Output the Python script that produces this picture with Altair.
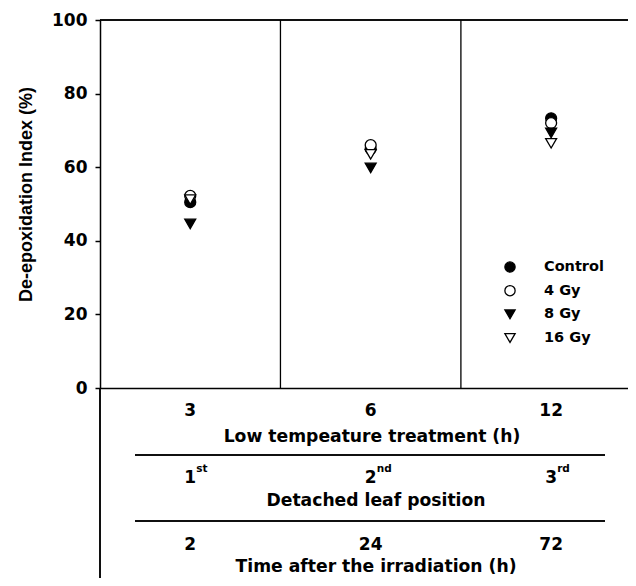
import altair as alt
import pandas as pd

# ---- data ----
series = ["Control", "4 Gy", "8 Gy", "16 Gy"]
low_temp_h = ["3", "6", "12"]
leaf_ordinals = ["1", "2", "3"]
leaf_suffixes = ["st", "nd", "rd"]
time_after_h = ["2", "24", "72"]
control = [50.5, 65.0, 73.3]
gy4 = [52.2, 66.0, 72.0]
gy8 = [44.6, 59.8, 69.3]
gy16 = [51.2, 63.5, 66.5]
y_ticks = [0, 20, 40, 60, 80, 100]
group_bounds = [1, 2]
y_title = "De-epoxidation Index (%)"
row_titles = ["Low tempeature treatment (h)", "Detached leaf position", "Time after the irradiation (h)"]

W, H = 528, 368
values = {"Control": control, "4 Gy": gy4, "8 Gy": gy8, "16 Gy": gy16}
rows = []
for s in series:
    for i, v in enumerate(values[s]):
        rows.append({"series": s, "g": i + 0.5, "v": v})
pts = pd.DataFrame(rows)
groups = pd.DataFrame({"g": [i + 0.5 for i in range(3)], "t1": low_temp_h,
                       "o": leaf_ordinals, "suf": leaf_suffixes, "t3": time_after_h})
bounds = pd.DataFrame({"b": group_bounds})
leg = pd.DataFrame({"series": series, "i": list(range(len(series)))})

xscale = alt.Scale(domain=[0, 2.926], nice=False, zero=False)
yscale = alt.Scale(domain=[0, 100], nice=False)
legscale = alt.Scale(domain=[0, 3], range=[247, 318])
shape_scale = alt.Scale(domain=series, range=["circle", "circle", "triangle-down", "triangle-down"])
fill_scale = alt.Scale(domain=series, range=["black", "white", "black", "white"])
xaxis = alt.Axis(labels=False, ticks=False, title=None, grid=False,
                 domainColor="black", domainWidth=1.5)
yaxis = alt.Axis(values=y_ticks, tickSize=5, tickWidth=1.5, tickColor="black",
                 labelPadding=8, labelFont="DejaVu Sans", labelFontWeight="bold",
                 labelFontSize=17, labelColor="black", grid=False,
                 domainColor="black", domainWidth=1.5,
                 title=y_title, titleFont="Liberation Sans", titleFontSize=18,
                 titleFontWeight="bold", titleColor="black", titleAngle=270,
                 titleX=-69, titleY=174, titleAlign="center", titleBaseline="alphabetic")

points = alt.Chart(pts).mark_point(filled=True, size=120, stroke="black",
                                   strokeWidth=1.3, opacity=1).encode(
    x=alt.X("g:Q", scale=xscale, axis=xaxis),
    y=alt.Y("v:Q", scale=yscale, axis=yaxis),
    shape=alt.Shape("series:N", scale=shape_scale, legend=None),
    fill=alt.Fill("series:N", scale=fill_scale, legend=None),
)

leg_pts = alt.Chart(leg).mark_point(filled=True, size=105, stroke="black",
                                    strokeWidth=1.3, opacity=1).encode(
    x=alt.value(410),
    y=alt.Y("i:Q", scale=legscale, axis=None),
    shape=alt.Shape("series:N", scale=shape_scale, legend=None),
    fill=alt.Fill("series:N", scale=fill_scale, legend=None),
)
leg_txt = alt.Chart(leg).mark_text(font="DejaVu Sans", fontWeight="bold", fontSize=14.5,
                                   color="black", align="left", baseline="middle").encode(
    x=alt.value(444),
    y=alt.Y("i:Q", scale=legscale, axis=None),
    text="series:N",
)

top_line = alt.Chart(bounds).mark_rule(color="black", strokeWidth=1.5).encode(
    x=alt.value(0), x2=alt.value(W), y=alt.value(0))
seps = alt.Chart(bounds).mark_rule(color="black", strokeWidth=1.3).encode(
    x=alt.X("b:Q", scale=xscale, axis=xaxis), y=alt.value(0), y2=alt.value(H))
ext_axis = alt.Chart(bounds).mark_rule(color="black", strokeWidth=1.5).encode(
    x=alt.value(0), y=alt.value(H), y2=alt.value(558))
line1 = alt.Chart(bounds).mark_rule(color="black", strokeWidth=1.3).encode(
    x=alt.value(35), x2=alt.value(505), y=alt.value(435))
line2 = alt.Chart(bounds).mark_rule(color="black", strokeWidth=1.3).encode(
    x=alt.value(35), x2=alt.value(505), y=alt.value(501))

num_style = dict(font="DejaVu Sans", fontWeight="bold", fontSize=17, color="black",
                 baseline="middle", align="center")
row1 = alt.Chart(groups).mark_text(**num_style).encode(
    x=alt.X("g:Q", scale=xscale, axis=xaxis), y=alt.value(391), text="t1:N")
row2 = alt.Chart(groups).mark_text(**num_style).encode(
    x=alt.X("g:Q", scale=xscale, axis=xaxis), y=alt.value(458), text="o:N")
row2s = alt.Chart(groups).mark_text(font="DejaVu Sans", fontWeight="bold", fontSize=10.5,
                                    color="black", baseline="middle", align="left", dx=6).encode(
    x=alt.X("g:Q", scale=xscale, axis=xaxis), y=alt.value(449), text="suf:N")
row3 = alt.Chart(groups).mark_text(**num_style).encode(
    x=alt.X("g:Q", scale=xscale, axis=xaxis), y=alt.value(525), text="t3:N")

title_style = dict(font="DejaVu Sans", fontWeight="bold", fontSize=17.2, color="black",
                   baseline="middle", align="center")
t1 = alt.Chart(pd.DataFrame({"t": [row_titles[0]]})).mark_text(**title_style).encode(
    x=alt.value(272), y=alt.value(417), text="t:N")
t2 = alt.Chart(pd.DataFrame({"t": [row_titles[1]]})).mark_text(**title_style).encode(
    x=alt.value(276), y=alt.value(481), text="t:N")
t3 = alt.Chart(pd.DataFrame({"t": [row_titles[2]]})).mark_text(**title_style).encode(
    x=alt.value(276), y=alt.value(547), text="t:N")

chart = alt.layer(top_line, seps, ext_axis, line1, line2, row1, row2, row2s, row3,
                  t1, t2, t3, points, leg_pts, leg_txt).resolve_scale(y="independent").properties(
    width=W, height=H,
    autosize=alt.AutoSizeParams(type="none"),
    padding={"left": 92, "top": 12, "right": 0, "bottom": 190},
    background="white",
).configure_view(stroke=None)

chart.save("out.html", embed_options={"renderer": "svg", "actions": False})
